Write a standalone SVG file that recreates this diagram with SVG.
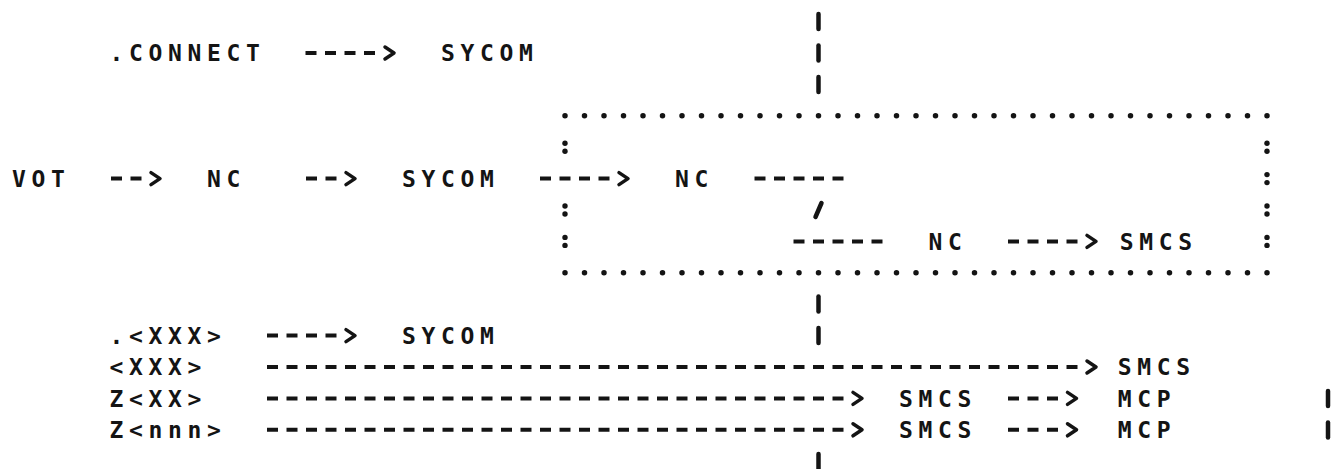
<svg xmlns="http://www.w3.org/2000/svg" width="1335" height="469" viewBox="0 0 1335 469">
<style>
.t{font-family:"DejaVu Sans Mono","Liberation Mono",monospace;font-size:23px;font-weight:bold;letter-spacing:5.65px;fill:#141414}
.d{fill:none;stroke:#141414;stroke-width:4;stroke-dasharray:11 8.5}
.a{marker-end:url(#ah)}
.bar{stroke:#141414;stroke-width:4.5;stroke-linecap:round}
.dots{fill:none;stroke:#141414;stroke-width:5.5;stroke-linecap:round;stroke-dasharray:0 19.5}
.c{fill:#141414}
</style>
<defs>
<marker id="ah" markerUnits="userSpaceOnUse" orient="auto" refX="0" refY="0" markerWidth="30" markerHeight="20" overflow="visible">
<path d="M9.5,-6 L18.5,0 L9.5,6" fill="none" stroke="#141414" stroke-width="3.5" stroke-linecap="round" stroke-linejoin="round"/>
</marker>
<g id="colon"><circle cx="0" cy="-4" r="2.7"/><circle cx="0" cy="4" r="2.7"/></g>
</defs>
<rect width="1335" height="469" fill="#fff"/>

<g id="box">
<path class="dots" d="M565 115.8 H1268"/>
<path class="dots" d="M565 272.8 H1268"/>
<g class="c">
<use href="#colon" x="565" y="147.2"/>
<use href="#colon" x="565" y="210"/>
<use href="#colon" x="565" y="241.4"/>
<use href="#colon" x="1267" y="147.2"/>
<use href="#colon" x="1267" y="178.6"/>
<use href="#colon" x="1267" y="210"/>
<use href="#colon" x="1267" y="241.4"/>
</g>
</g>

<g id="connectors">
<path class="d a" d="M305.5 53 H375.5"/>
<path class="d a" d="M111 178.6 H141.5"/>
<path class="d a" d="M306 178.6 H336.5"/>
<path class="d a" d="M540 178.6 H609.5"/>
<path class="d" d="M754.5 178.6 H843.5"/>
<line class="bar" x1="821.5" y1="203" x2="815.5" y2="217"/>
<path class="d" d="M793.5 241.4 H882.5"/>
<path class="d a" d="M1008 241.4 H1077.5"/>
<path class="d a" d="M267 335.6 H336.5"/>
<path class="d a" d="M267 367 H1077.5"/>
<path class="d a" d="M267 398.4 H843.5"/>
<path class="d a" d="M1008 398.4 H1058"/>
<path class="d a" d="M267 429.8 H843.5"/>
<path class="d a" d="M1008 429.8 H1058"/>
<line class="bar" x1="818.5" y1="14" x2="818.5" y2="29"/>
<line class="bar" x1="818.5" y1="45.5" x2="818.5" y2="60.5"/>
<line class="bar" x1="818.5" y1="77" x2="818.5" y2="92"/>
<line class="bar" x1="818.5" y1="296.5" x2="818.5" y2="311.5"/>
<line class="bar" x1="818.5" y1="328" x2="818.5" y2="343"/>
<line class="bar" x1="818.5" y1="454" x2="818.5" y2="469"/>
<line class="bar" x1="1328" y1="391" x2="1328" y2="406"/>
<line class="bar" x1="1328" y1="422.5" x2="1328" y2="437.5"/>
</g>

<g id="n-connect"><text class="t" x="109.6" y="61.4">.CONNECT</text></g>
<g id="n-sycom1"><text class="t" x="441.1" y="61.4">SYCOM</text></g>
<g id="n-vot"><text class="t" x="12.1" y="187">VOT</text></g>
<g id="n-nc1"><text class="t" x="207.1" y="187">NC</text></g>
<g id="n-sycom2"><text class="t" x="402.1" y="187">SYCOM</text></g>
<g id="n-nc2"><text class="t" x="675.1" y="187">NC</text></g>
<g id="n-nc3"><text class="t" x="928.6" y="249.8">NC</text></g>
<g id="n-smcs1"><text class="t" x="1119.7" y="249.8">SMCS</text></g>
<g id="n-xxx1"><text class="t" x="109.6" y="344">.&lt;XXX&gt;</text></g>
<g id="n-sycom3"><text class="t" x="402.1" y="344">SYCOM</text></g>
<g id="n-xxx2"><text class="t" x="109.6" y="375.4">&lt;XXX&gt;</text></g>
<g id="n-smcs2"><text class="t" x="1117.7" y="375.4">SMCS</text></g>
<g id="n-zxx"><text class="t" x="109.6" y="406.8">Z&lt;XX&gt;</text></g>
<g id="n-smcs3"><text class="t" x="899.1" y="406.8">SMCS</text></g>
<g id="n-mcp1"><text class="t" x="1117.7" y="406.8">MCP</text></g>
<g id="n-znnn"><text class="t" x="109.6" y="438.2">Z&lt;nnn&gt;</text></g>
<g id="n-smcs4"><text class="t" x="899.1" y="438.2">SMCS</text></g>
<g id="n-mcp2"><text class="t" x="1117.7" y="438.2">MCP</text></g>
</svg>
